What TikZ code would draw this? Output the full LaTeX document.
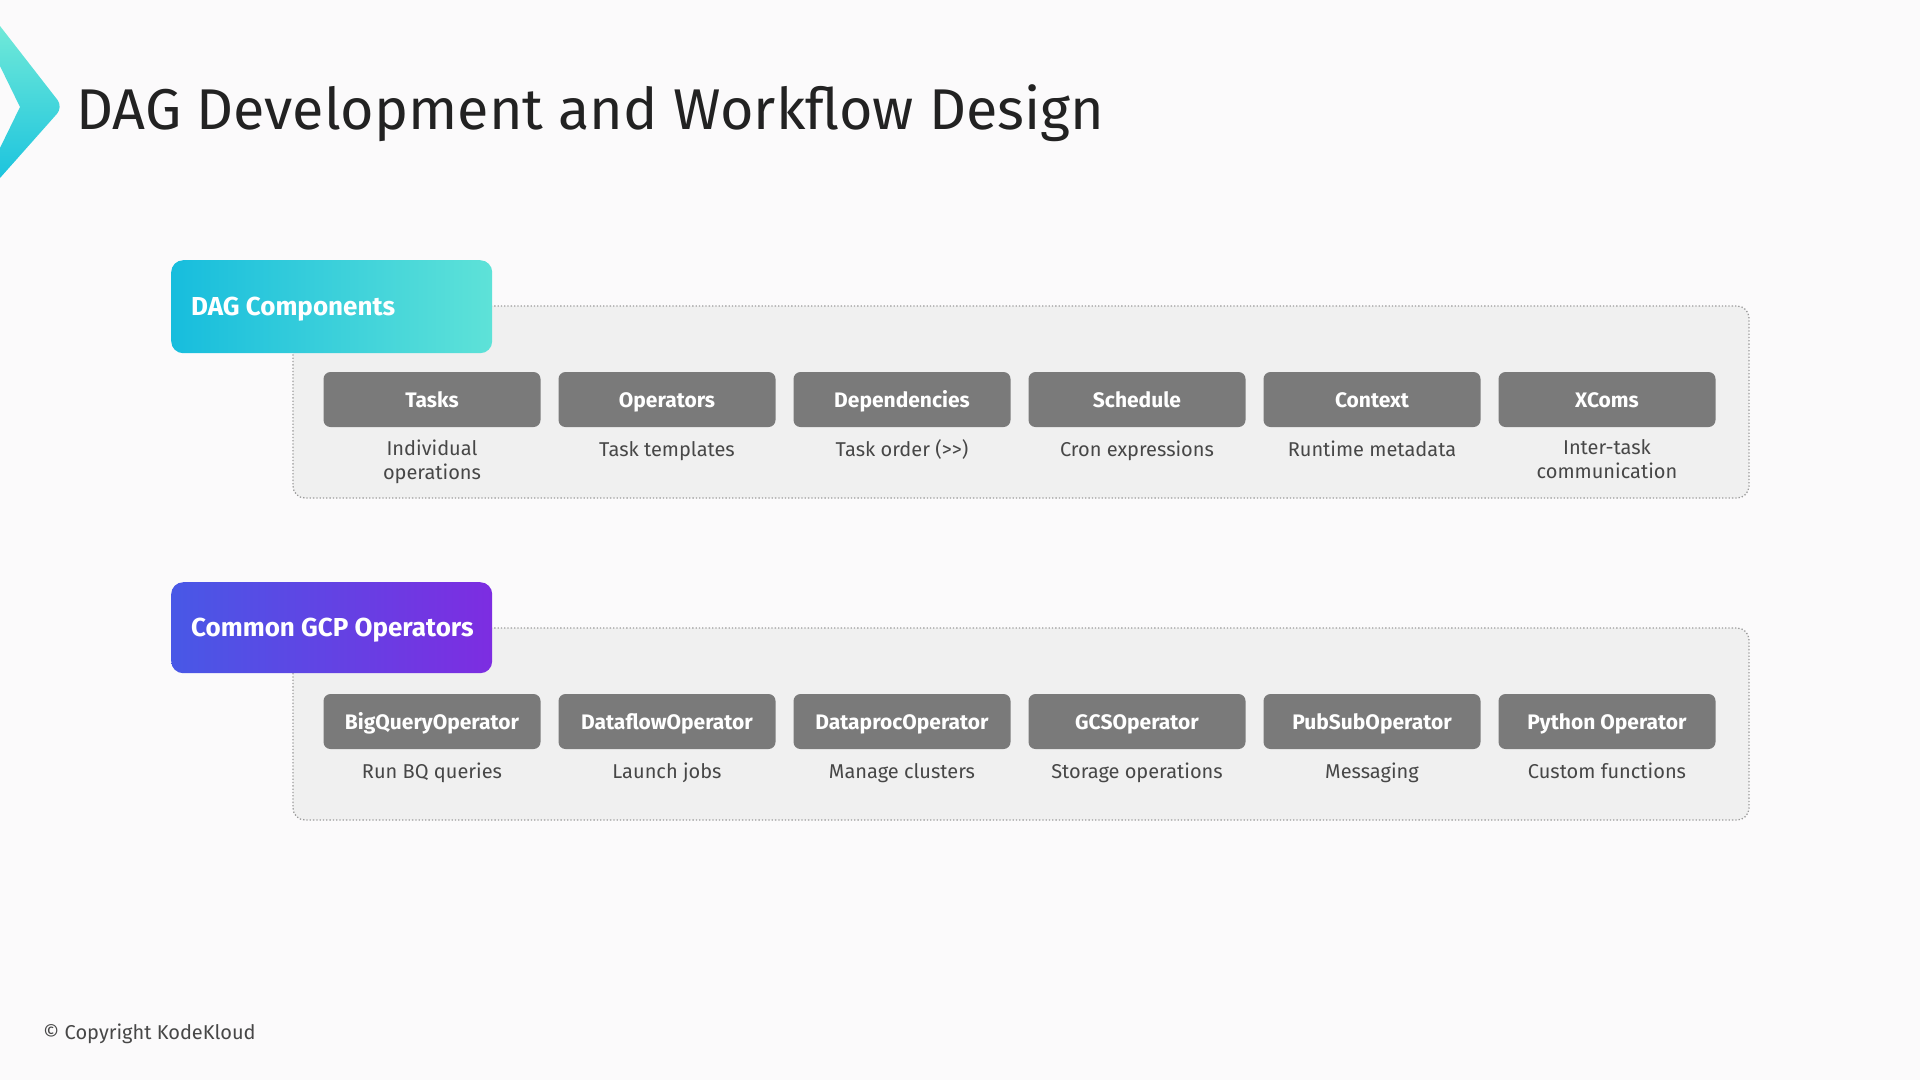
\documentclass[tikz,border=0pt]{standalone}
\usepackage{fontspec}
\setmainfont{Fira Sans}
\usetikzlibrary{positioning}

\definecolor{pagebg}{HTML}{FBFAFB}
\definecolor{titleink}{HTML}{222222}
\definecolor{chevtop}{HTML}{70E9D8}
\definecolor{chevbot}{HTML}{1CC4DE}
\definecolor{dagleft}{HTML}{17BDDD}
\definecolor{dagright}{HTML}{5EE2D8}
\definecolor{gcpleft}{HTML}{4858E6}
\definecolor{gcpright}{HTML}{7D2DE1}
\definecolor{panelfill}{HTML}{F0F0F0}
\definecolor{paneledge}{HTML}{9C9C9C}
\definecolor{itemgray}{HTML}{7A7A7A}
\definecolor{noteink}{HTML}{474747}

\tikzset{
  header/.style={anchor=north west, rounded corners=12pt, minimum width=321pt},
  headtext/.style={anchor=west, inner sep=0pt, text height=18pt, text depth=0pt, text=white,
    font=\fontsize{26}{30}\selectfont\bfseries},
  panel/.style={fill=panelfill, draw=paneledge, dotted, line width=1.3pt, rounded corners=12pt},
  itembox/.style={fill=itemgray, rounded corners=7pt, minimum width=217pt, minimum height=55pt,
    text height=15pt, text depth=0pt, text=white, font=\fontsize{21}{24}\selectfont\bfseries},
  itemnote/.style={text=noteink, inner sep=0pt, align=center, execute at begin node=\strut,
    font=\fontsize{20}{24}\selectfont}
}

\begin{document}
\begin{tikzpicture}[x=1pt, y=-1pt]
  \fill[pagebg] (0,0) rectangle (1920,1080);
  \useasboundingbox (0,0) rectangle (1920,1080);

  % chevron mark at the left edge
  \shade[top color=chevtop, bottom color=chevbot]
    (0,26) [rounded corners=9pt]-- (63,107) [sharp corners]-- (0,178) -- (0,148) -- (20,107) -- (0,66) -- cycle;
  \node[anchor=base west, inner sep=0pt, text=titleink, font=\fontsize{57.5}{64}\selectfont] (title)
    at (76,129) {DAG Development and Workflow Design};

  % first group: DAG components
  \draw[panel] (293,306) rectangle (1749,498);
  \node[header, minimum height=93pt, left color=dagleft, right color=dagright] (dagcomp) at (171,260) {};
  \node[headtext] (dagcomp-text) at ([xshift=20pt]dagcomp.west) {DAG Components};
  \foreach \key/\lbl/\txt [count=\i from 0] in {
      tasks/Tasks/{Individual\\operations},
      operators/Operators/{Task templates},
      deps/Dependencies/{Task order (>\kern0pt>)},
      schedule/Schedule/{Cron expressions},
      context/Context/{Runtime metadata},
      xcoms/XComs/{Inter-task\\communication}}{
    \node[itembox] (\key) at (432+235*\i,399.5) {\lbl};
    \node[itemnote, below=12pt of \key] (\key-note) {\txt};
  }

  % second group: GCP operators
  \draw[panel] (293,628) rectangle (1749,820);
  \node[header, minimum height=91pt, left color=gcpleft, right color=gcpright] (gcpops) at (171,582) {};
  \node[headtext] (gcpops-text) at ([xshift=20pt]gcpops.west) {Common GCP Operators};
  \foreach \key/\lbl/\txt [count=\i from 0] in {
      bigquery/BigQueryOperator/{Run BQ queries},
      dataflow/DataflowOperator/{Launch jobs},
      dataproc/DataprocOperator/{Manage clusters},
      gcs/GCSOperator/{Storage operations},
      pubsub/PubSubOperator/{Messaging},
      python/Python Operator/{Custom functions}}{
    \node[itembox] (\key) at (432+235*\i,721.5) {\lbl};
    \node[itemnote, below=12pt of \key] (\key-note) {\txt};
  }

  \node[anchor=base west, inner sep=0pt, text=noteink, font=\fontsize{20}{24}\selectfont] (copyright)
    at (43,1039) {© Copyright KodeKloud};
\end{tikzpicture}
\end{document}
